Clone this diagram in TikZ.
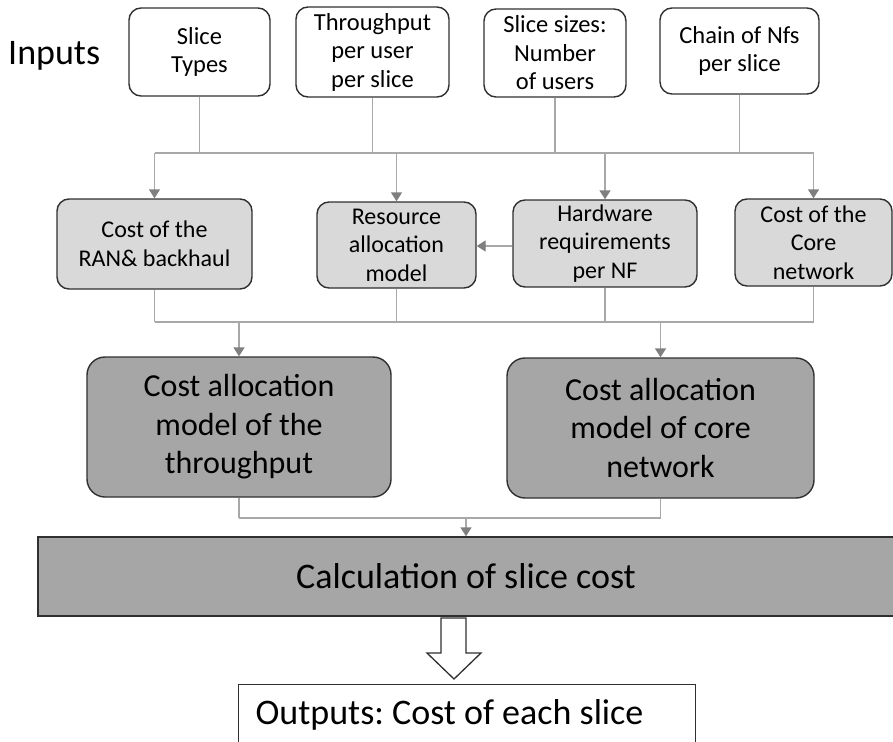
\documentclass[tikz,border=0pt]{standalone}
\usepackage{fontspec}
\setmainfont{Carlito}
\usetikzlibrary{arrows.meta}
\definecolor{lightbox}{HTML}{D9D9D9}
\definecolor{darkbox}{HTML}{A6A6A6}
\definecolor{conn}{HTML}{A8A8A8}
\definecolor{tipc}{HTML}{7F7F7F}
\definecolor{edgec}{HTML}{303030}
\frenchspacing
\begin{document}
\begin{tikzpicture}[x=1pt,y=-1pt,
  inbox/.style={draw=edgec,line width=1.4pt,rounded corners=12pt,fill=white,align=center,inner sep=0pt,font=\fontsize{24.5}{28.5}\selectfont},
  midbox/.style={inbox,fill=lightbox,font=\fontsize{24}{28.5}\selectfont},
  bigbox/.style={draw=edgec,line width=1.4pt,rounded corners=18pt,fill=darkbox,align=center,inner sep=0pt,font=\fontsize{32}{38.5}\selectfont},
  link/.style={draw=conn,line width=1.4pt},
  arr/.style={link,-{Triangle[width=11pt,length=9pt,color=tipc]}},
]
\useasboundingbox (0,0) rectangle (893,741);

% inputs label
\node (inputs) [anchor=base west,inner sep=0pt,font=\fontsize{36}{40}\selectfont] at (8,65) {Inputs};

% top row
\node (st) [inbox,minimum width=141pt,minimum height=88pt] at (199.5,52) {Slice\\Types};
\node (tp) [inbox,minimum width=153pt,minimum height=90pt] at (372.5,52) {Throughput\\per user\\per slice};
\node (ss) [inbox,minimum width=142pt,minimum height=88pt] at (555,53) {Slice sizes:\\Number\\of users};
\node (ch) [inbox,minimum width=159pt,minimum height=86pt] at (739.5,51) {Chain of Nfs\\per slice};

% middle row
\node (ran) [midbox,minimum width=195pt,minimum height=90pt] at (154.5,244) {Cost of the\\RAN\& backhaul};
\node (res) [midbox,minimum width=159pt,minimum height=86pt] at (396.5,245) {Resource\\allocation\\model};
\node (hw) [midbox,minimum width=184pt,minimum height=87pt] at (605,243.5) {Hardware\\requirements\\per NF};
\node (core) [midbox,minimum width=157pt,minimum height=87pt] at (813.5,242.5) {Cost of the\\Core\\network};

% big boxes
\node (cat) [bigbox,minimum width=304pt,minimum height=140pt] at (239,427) {Cost allocation\\model of the\\throughput};
\node (cac) [bigbox,minimum width=307pt,minimum height=140pt] at (660.5,428) {Cost allocation\\model of core\\network};

% calculation
\node (calc) [draw=edgec,line width=1.4pt,fill=darkbox,inner sep=0pt,minimum width=856pt,minimum height=79pt,font=\fontsize{36}{40}\selectfont] at (466,576.5) {Calculation of slice cost};

% outputs
\node (out) [draw=edgec,line width=1.2pt,fill=white,anchor=north west,inner xsep=17pt,inner ysep=0pt,text height=40pt,text depth=60pt,font=\fontsize{36}{40}\selectfont] at (238,684) {\makebox[423pt][l]{Outputs: Cost of each slice}};

% first bus
\coordinate (busA) at (0,153);
\foreach \n in {st,tp,ss,ch} \draw[link] (\n.south) -- (\n.south |- busA);
\draw[link] (ran.north |- busA) -- (core.north |- busA);
\foreach \n in {ran,res,hw,core} \draw[arr] (\n.north |- busA) -- (\n.north);

% hardware -> resource
\draw[arr] (hw.west |- 0,246) -- (res.east |- 0,246);

% second bus
\coordinate (busB) at (0,322);
\foreach \n in {ran,res,hw,core} \draw[link] (\n.south) -- (\n.south |- busB);
\draw[link] (ran.south |- busB) -- (core.south |- busB);
\foreach \n in {cat,cac} \draw[arr] (\n.north |- busB) -- (\n.north);

% third bus
\coordinate (busC) at (0,518);
\foreach \n in {cat,cac} \draw[link] (\n.south) -- (\n.south |- busC);
\draw[link] (cat.south |- busC) -- (cac.south |- busC);
\draw[arr] (calc.north |- busC) -- (calc.north);

% hollow arrow
\draw[draw=edgec,line width=1.3pt,fill=white,line join=miter]
  (441,618) -- (466,618) -- (466,653) -- (481,653) -- (454,679) -- (427,653) -- (441,653) -- cycle;
\end{tikzpicture}
\end{document}
